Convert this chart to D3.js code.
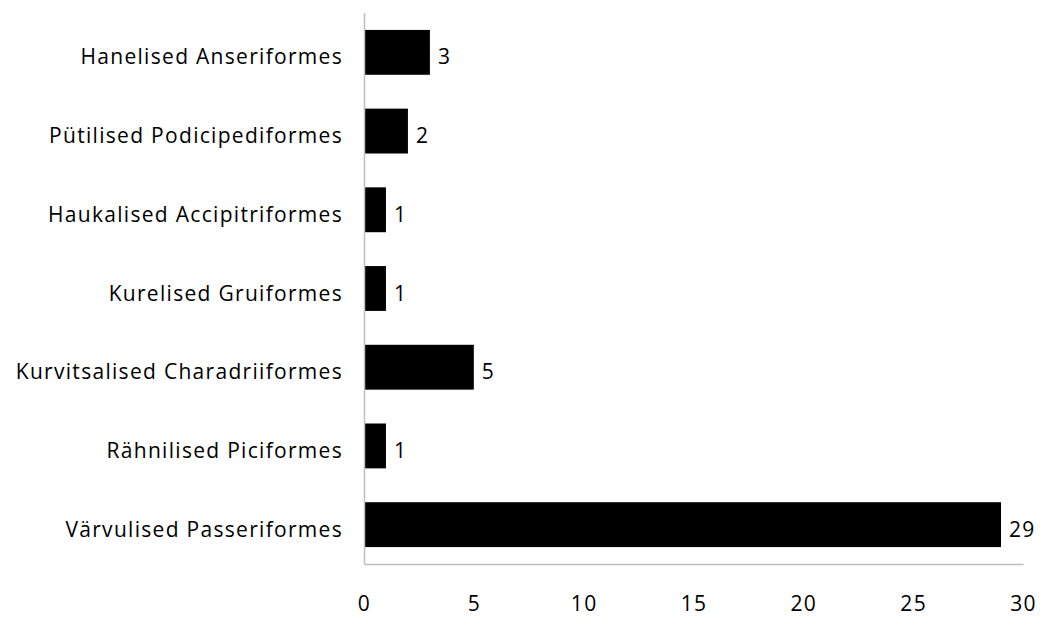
<!DOCTYPE html>
<html>
<head>
<meta charset="utf-8">
<script src="https://cdn.jsdelivr.net/npm/d3@7"></script>
<style>
  html, body { margin: 0; padding: 0; background: #fff; }
  text { font-family: "Open Sans", Lato, sans-serif; fill: #000; }
</style>
</head>
<body>
<svg id="chart" width="1040" height="617"></svg>
<script>
// Bird orders and number of species
const categories = [
  "Hanelised Anseriformes",
  "Pütilised Podicipediformes",
  "Haukalised Accipitriformes",
  "Kurelised Gruiformes",
  "Kurvitsalised Charadriiformes",
  "Rähnilised Piciformes",
  "Värvulised Passeriformes"
];
const values = [3, 2, 1, 1, 5, 1, 29];
const xTicks = [0, 5, 10, 15, 20, 25, 30];

const svg = d3.select("#chart");
const plotLeft = 364, plotRight = 1023, plotTop = 13, plotBottom = 564;
const fontSize = 21;
const letterSpacing = 1.3;

const x = d3.scaleLinear().domain([0, 30]).range([plotLeft, plotRight]);
const y = d3.scaleBand().domain(categories).range([plotTop, plotBottom]).paddingInner(0.43).paddingOuter(0.215);

// bars
svg.append("g").selectAll("rect")
  .data(categories)
  .join("rect")
  .attr("x", x(0))
  .attr("y", d => y(d))
  .attr("width", (d, i) => x(values[i]) - x(0))
  .attr("height", y.bandwidth())
  .attr("fill", "#000");

// value labels
svg.append("g").selectAll("text")
  .data(categories)
  .join("text")
  .attr("x", (d, i) => x(values[i]) + 8)
  .attr("y", d => y(d) + y.bandwidth() / 2)
  .attr("dy", 12)
  .attr("font-size", fontSize)
  .attr("letter-spacing", letterSpacing)
  .text((d, i) => values[i]);

// category axis
const yAxis = svg.append("g")
  .attr("transform", `translate(${plotLeft},0)`)
  .call(d3.axisLeft(y).tickSize(0).tickPadding(21));
yAxis.select(".domain").attr("stroke", "#bfbfbf").attr("stroke-width", 1.5)
  .attr("d", `M0.5,${plotTop}V${plotBottom}`);
yAxis.selectAll("text")
  .attr("font-size", fontSize)
  .attr("letter-spacing", letterSpacing)
  .attr("dy", 12)
  .attr("fill", "#000");

// value axis
const xAxis = svg.append("g")
  .attr("transform", `translate(0,${plotBottom})`)
  .call(d3.axisBottom(x).tickValues(xTicks).tickSize(0).tickPadding(32));
xAxis.select(".domain").attr("stroke", "#bfbfbf").attr("stroke-width", 1.5);
xAxis.selectAll("text")
  .attr("font-size", fontSize)
  .attr("letter-spacing", letterSpacing)
  .attr("fill", "#000");
</script>
</body>
</html>
